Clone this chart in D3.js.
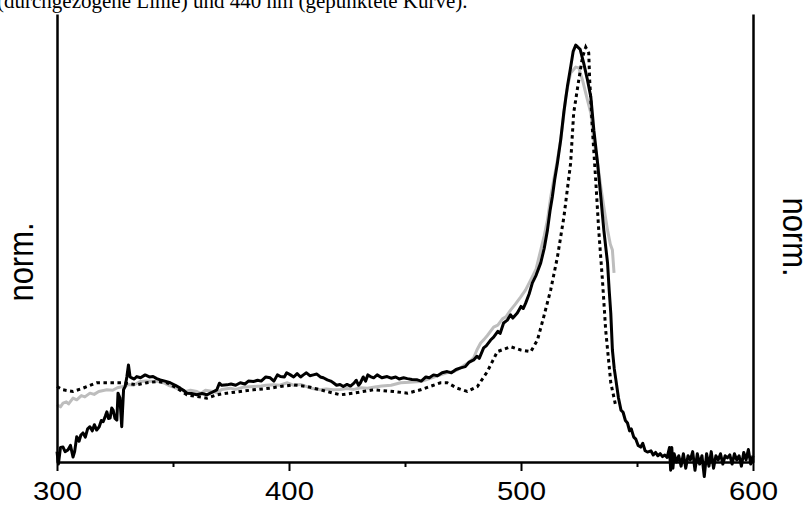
<!DOCTYPE html>
<html>
<head>
<meta charset="utf-8">
<script src="https://cdn.jsdelivr.net/npm/d3@7/dist/d3.min.js"></script>
<style>
  html, body { margin: 0; padding: 0; background: #fff; }
  svg { display: block; }
</style>
</head>
<body>
<svg id="chart" width="807" height="506"></svg>
<script>
// ---------- DATA ----------
const captionText = "(durchgezogene Linie) und 440 nm (gepunktete Kurve).";
const yLabel = "norm.";
const xTicks = [300, 400, 500, 600];
const xMinorTicks = [350, 450, 550];

// solid black curve: [wavelength nm, normalized intensity]
const blackSeries = [
  [300,0.02],[300.6,-0.01],[301.5,0.03],[302.6,0.031],[303.5,0.02],[304.7,0.024],[305.8,0.035],[306.9,0.007],
  [307.6,0.02],[308.5,0.056],[309.5,0.045],[310.3,0.06],[311.2,0.065],[312.2,0.055],[313.2,0.075],[314.2,0.08],
  [315.2,0.07],[316.1,0.085],[317.1,0.072],[318.2,0.08],[319.1,0.095],[319.9,0.092],[320.8,0.105],[321.5,0.116],
  [322.2,0.1],[322.9,0.101],[323.6,0.125],[324.2,0.12],[325,0.1],[325.8,0.096],[326.3,0.161],[327.1,0.15],
  [327.9,0.08],[328.7,0.17],[329.4,0.177],[330.1,0.2],[330.8,0.229],[331.5,0.2],[332.2,0.198],[333.3,0.195],
  [334.4,0.201],[336,0.198],[338,0.205],[339.8,0.2],[341.4,0.201],[343,0.196],[344.5,0.193],[346.5,0.19],
  [348.8,0.186],[351,0.18],[353.1,0.173],[354.5,0.168],[356,0.161],[358,0.16],[360.3,0.157],[362.5,0.16],
  [364.6,0.157],[366.5,0.162],[368.9,0.169],[370,0.185],[371,0.18],[373.3,0.181],[375,0.183],[377,0.18],
  [379,0.186],[381,0.183],[382.5,0.19],[384.7,0.189],[386.5,0.192],[388,0.19],[390,0.2],[391.9,0.198],
  [393.5,0.19],[395,0.205],[396.3,0.201],[398,0.2],[399,0.21],[400.6,0.205],[402,0.2],[403.5,0.208],
  [405,0.2],[406.2,0.205],[407.5,0.21],[409,0.203],[410.5,0.205],[412,0.207],[413.5,0.2],[414.8,0.198],
  [416.5,0.193],[418,0.19],[419.1,0.186],[420.5,0.18],[422,0.182],[423.4,0.177],[425,0.182],[426.5,0.178],
  [428,0.185],[429,0.192],[430,0.18],[430.8,0.186],[432,0.2],[433,0.19],[434,0.205],[435.1,0.201],
  [436.5,0.198],[438,0.205],[440,0.198],[442.3,0.201],[444,0.197],[446,0.2],[447.5,0.195],[449.4,0.198],
  [451,0.196],[453,0.194],[455.3,0.193],[457,0.19],[459,0.2],[460.5,0.198],[462.3,0.205],[464,0.203],
  [466,0.21],[468.2,0.213],[470,0.21],[472,0.218],[474,0.222],[476,0.225],[477.5,0.235],[479.6,0.241],
  [481,0.25],[482,0.245],[483.9,0.27],[485,0.275],[486.9,0.289],[488.2,0.296],[490,0.31],[491,0.305],
  [492.5,0.33],[494.1,0.337],[495.5,0.35],[496.5,0.342],[498.4,0.354],[500,0.37],[501,0.365],[502,0.378],
  [503.5,0.4],[504.9,0.427],[506.5,0.445],[508.5,0.475],[510,0.51],[511.4,0.554],[512.5,0.6],[513.5,0.634],
  [514.5,0.675],[515.7,0.716],[517.1,0.771],[518.5,0.84],[520,0.9],[521.5,0.95],[522.5,0.985],[523.6,1.0],
  [524.5,0.995],[525.5,0.99],[527,0.957],[528.5,0.92],[530.1,0.875],[531.4,0.795],[533,0.716],[534.4,0.634],
  [535.7,0.554],[537.3,0.475],[538,0.41],[538.7,0.354],[539.4,0.265],[540.2,0.22],[540.9,0.193],[542,0.15],
  [543.1,0.12],[544,0.115],[545,0.095],[545.9,0.089],[546.8,0.07],[547.5,0.075],[548.6,0.055],[549.5,0.05],
  [550.5,0.035],[551.6,0.031],[552.5,0.04],[553.5,0.022],[554.5,0.019],[556,0.022],[557,0.012],[558,0.018],
  [559,0.01],[560,0.015],[561,0.008],[562,0.012],[563,0.006],[564,0.03],[564.5,-0.025],[565,0.03],
  [565.5,-0.02],[566,0.015],[567,-0.005],[568,0.01],[569,-0.015],[570,0.015],[571,-0.02],[572,0.01],
  [573,0.0],[574,0.02],[575,-0.025],[576,0.015],[577,-0.01],[578,0.01],[579,-0.04],[580,0.015],
  [581,-0.015],[582,0.02],[583,-0.02],[584,0.01],[585,0.0],[586,0.015],[587,-0.01],[588,0.01],
  [589,0.005],[590,0.012],[591,-0.01],[592,0.015],[593,0.0],[594,0.01],[595,-0.015],[596,0.018],
  [597,0.0],[598,0.025],[599,-0.01],[600,0.01]
];

// grey curve
const greySeries = [
  [300,0.133],[301.5,0.128],[302.6,0.137],[304,0.14],[305,0.135],[306.9,0.149],[308.5,0.145],[310.5,0.155],
  [312,0.152],[314.2,0.161],[316,0.158],[318,0.165],[321.5,0.169],[324,0.168],[326,0.174],[328.5,0.177],
  [331,0.182],[333,0.18],[335.8,0.189],[338.5,0.19],[341.4,0.189],[343.5,0.19],[345.8,0.186],[348,0.18],
  [350.5,0.175],[353.1,0.169],[355.5,0.165],[357.5,0.168],[360.3,0.165],[362,0.16],[364,0.168],[367.3,0.165],
  [369,0.162],[371,0.17],[374.7,0.173],[377,0.17],[380,0.175],[384.6,0.177],[388,0.178],[390,0.18],
  [393.2,0.181],[396,0.18],[399.3,0.186],[402,0.18],[405,0.182],[408,0.176],[410,0.172],[413.5,0.169],
  [416,0.171],[419.1,0.169],[422,0.17],[425,0.172],[428,0.17],[431,0.174],[433.8,0.173],[437,0.176],
  [440,0.178],[444,0.18],[448.1,0.186],[452,0.187],[456.7,0.189],[460,0.195],[462.5,0.2],[465.3,0.205],
  [468,0.21],[471,0.213],[474,0.222],[476,0.23],[477.5,0.235],[479.6,0.246],[481,0.265],[482.6,0.282],
  [484,0.29],[485.5,0.3],[488.2,0.32],[490,0.325],[492,0.34],[493.5,0.345],[495.5,0.361],[497.5,0.375],
  [499.9,0.393],[502,0.41],[504.2,0.434],[506.5,0.46],[508.5,0.506],[510,0.54],[511.4,0.578],[512.7,0.63],
  [514.1,0.675],[515.6,0.72],[517.1,0.771],[518.2,0.82],[519.3,0.875],[520.3,0.905],[521.4,0.933],[522.5,0.94],
  [523.6,0.947],[524.9,0.945],[525.7,0.93],[526.5,0.916],[527.9,0.884],[529,0.86],[530.1,0.836],[531.4,0.771],
  [533,0.716],[534.4,0.658],[535.7,0.61],[537.3,0.554],[538.5,0.52],[539.4,0.506],[540.1,0.451]
];

// dotted curve
const dottedSeries = [
  [300,0.177],[302.6,0.169],[306.9,0.165],[311.2,0.173],[317.1,0.186],[322.9,0.186],[328.5,0.186],[334.4,0.181],
  [338.7,0.186],[343,0.189],[347.4,0.186],[351.7,0.173],[356,0.157],[360.3,0.153],[364.6,0.149],[368.9,0.157],
  [373.3,0.161],[379,0.165],[384.6,0.169],[391.9,0.173],[396.3,0.177],[401.9,0.181],[407.8,0.177],[413.5,0.169],
  [419.1,0.161],[422.2,0.157],[427.8,0.161],[436.4,0.169],[445,0.165],[451.1,0.161],[456.7,0.169],[465.3,0.186],
  [468.2,0.186],[472.5,0.173],[476.8,0.165],[481.2,0.177],[485.5,0.213],[489.8,0.261],[495.5,0.273],[499.9,0.265],
  [504.2,0.261],[507.1,0.289],[509.8,0.345],[512.8,0.41],[515.7,0.489],[518.5,0.586],[521.4,0.716],[522.7,0.836],
  [524.9,0.916],[526.5,0.971],[527.9,0.995],[529.2,0.981],[529.6,0.916],[530.8,0.795],[532.2,0.675],[533.5,0.554],
  [535.1,0.434],[536.5,0.313],[538.7,0.186],[540,0.152],[540.9,0.128]
];

// ---------- CHART ----------
const svg = d3.select("#chart");
const W = 807, H = 506;

const x = d3.scaleLinear().domain([300, 600]).range([57, 753]);
const y = d3.scaleLinear().domain([-0.005, 1.075]).range([462, 14]);

const line = d3.line().x(d => x(d[0])).y(d => y(d[1])).curve(d3.curveLinear);

// caption fragment at top (cut off)
svg.append("text")
  .attr("x", -3).attr("y", 8)
  .attr("font-family", "Liberation Serif, Times New Roman, serif")
  .attr("font-size", 21)
  .attr("fill", "#000")
  .text(captionText);

// curves
svg.append("path").datum(greySeries)
  .attr("d", line).attr("fill", "none")
  .attr("stroke", "#bdbdbd").attr("stroke-width", 3)
  .attr("stroke-linejoin", "round");

svg.append("path").datum(blackSeries)
  .attr("d", line).attr("fill", "none")
  .attr("stroke", "#000").attr("stroke-width", 3)
  .attr("stroke-linejoin", "round");

svg.append("path").datum(dottedSeries)
  .attr("d", line).attr("fill", "none")
  .attr("stroke", "#000").attr("stroke-width", 3)
  .attr("stroke-dasharray", "3.5,3.5")
  .attr("stroke-linejoin", "miter");

// x axis (major)
const xAxisG = svg.append("g")
  .attr("transform", `translate(0,${y.range()[0]})`)
  .call(d3.axisBottom(x).tickValues(xTicks).tickSize(9).tickSizeOuter(0).tickFormat(d3.format("d")));
xAxisG.select(".domain").attr("stroke", "#000").attr("stroke-width", 2.5);
xAxisG.selectAll(".tick line").attr("stroke", "#000").attr("stroke-width", 2);
xAxisG.selectAll(".tick text")
  .attr("y", 38).attr("dy", 0)
  .attr("font-family", "Liberation Sans, Arial, sans-serif")
  .attr("font-size", 25.5)
  .attr("fill", "#000")
  .attr("transform", "scale(1.15,1)");

// x axis (minor)
const xMinorG = svg.append("g")
  .attr("transform", `translate(0,${y.range()[0]})`)
  .call(d3.axisBottom(x).tickValues(xMinorTicks).tickSize(5).tickFormat(""));
xMinorG.select(".domain").remove();
xMinorG.selectAll(".tick line").attr("stroke", "#000").attr("stroke-width", 2);

// left and right axes (lines only)
const leftG = svg.append("g")
  .attr("transform", `translate(${x.range()[0]},0)`)
  .call(d3.axisLeft(y).tickValues([]).tickSizeOuter(0));
leftG.select(".domain").attr("stroke", "#000").attr("stroke-width", 2.5);

const rightG = svg.append("g")
  .attr("transform", `translate(${x.range()[1]},0)`)
  .call(d3.axisRight(y).tickValues([]).tickSizeOuter(0));
rightG.select(".domain").attr("stroke", "#000").attr("stroke-width", 2.5);

// y labels
svg.append("text")
  .attr("transform", "translate(33,262) scale(1.15,1) rotate(-90)")
  .attr("text-anchor", "middle")
  .attr("font-family", "Liberation Sans, Arial, sans-serif")
  .attr("font-size", 31)
  .attr("fill", "#000")
  .text(yLabel);

svg.append("text")
  .attr("transform", "translate(783,237) scale(1.15,1) rotate(90)")
  .attr("text-anchor", "middle")
  .attr("font-family", "Liberation Sans, Arial, sans-serif")
  .attr("font-size", 31)
  .attr("fill", "#000")
  .text(yLabel);
</script>
</body>
</html>
